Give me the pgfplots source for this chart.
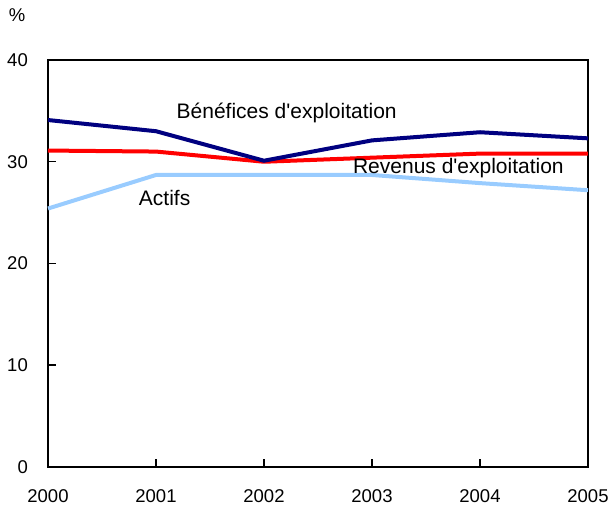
\documentclass[border=0pt]{standalone}
\usepackage{pgfplots}
\pgfplotsset{compat=1.18}
\usepackage{fontspec}
\setmainfont{Liberation Sans}[Ligatures=TeXOff]
\definecolor{benef}{RGB}{0,0,128}
\definecolor{revenus}{RGB}{255,0,0}
\definecolor{actifs}{RGB}{153,204,255}
\begin{document}
\begin{tikzpicture}[x=1pt,y=1pt]
\path[use as bounding box] (-48,-43) rectangle (566,467);
\fontsize{21}{24}\selectfont
\begin{axis}[
  at={(0,0)}, anchor=south west,
  scale only axis, width=540pt, height=407pt,
  xmin=2000, xmax=2005, ymin=0, ymax=40,
  xtick={2000,2001,2002,2003,2004,2005},
  ytick={0,10,20,30,40},
  xticklabel style={/pgf/number format/1000 sep={}, yshift=-15pt},
  yticklabel style={xshift=-13pt},
  /pgf/number format/assume math mode=true,
  tick align=inside,
  xtick pos=bottom, ytick pos=left,
  major tick length=8pt,
  tick style={line width=1.5pt, black},
  axis line style={line width=2.5pt},
  ticklabel style={font=\fontsize{18.5}{22}\selectfont},
  clip=false,
]
\addplot[color=actifs, line width=4pt] coordinates {(2000,25.4) (2001,28.7) (2002,28.7) (2003,28.7) (2004,27.9) (2005,27.2)};
\addplot[color=revenus, line width=4pt] coordinates {(2000,31.1) (2001,31.0) (2002,30.0) (2003,30.4) (2004,30.8) (2005,30.8)};
\addplot[color=benef, line width=4pt] coordinates {(2000,34.1) (2001,33.0) (2002,30.1) (2003,32.1) (2004,32.9) (2005,32.3)};
\node at (axis cs:2002.21,34.8) {Bénéfices d'exploitation};
\node at (axis cs:2003.80,29.35) {Revenus d'exploitation};
\node at (axis cs:2001.08,26.4) {Actifs};
\node[anchor=base, font=\fontsize{18.5}{22}\selectfont] at ([xshift=-31pt,yshift=38pt]rel axis cs:0,1) {\%};
\end{axis}
\end{tikzpicture}
\end{document}
